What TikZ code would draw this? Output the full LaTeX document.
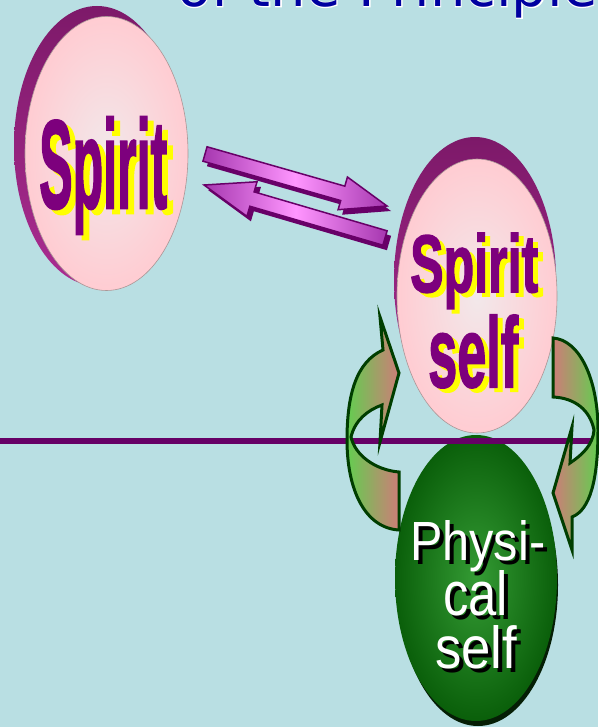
\documentclass[tikz,border=0pt]{standalone}
\usepackage{graphicx}
\usepackage{fontspec}
\setmainfont{Liberation Sans}
\newfontfamily\titlefont{DejaVu Sans}
\newfontfamily\titleoutline[FakeBold=3]{DejaVu Sans}
\newfontfamily\heavyfont[FakeBold=2]{Liberation Sans}
\usetikzlibrary{calc}
\definecolor{bg}{RGB}{185,223,227}
\definecolor{rimc}{RGB}{170,45,145}
\definecolor{rimdark}{RGB}{125,25,105}
\definecolor{facec}{RGB}{255,204,210}
\definecolor{facein}{RGB}{242,232,234}
\definecolor{txtpurple}{RGB}{125,0,125}
\definecolor{shyellow}{RGB}{255,255,0}
\definecolor{linepurple}{RGB}{102,0,102}
\definecolor{arrdark}{RGB}{104,0,104}
\definecolor{arrlight}{RGB}{255,150,255}
\definecolor{arrmid}{RGB}{165,55,175}
\definecolor{gedge}{RGB}{0,62,0}
\definecolor{ggreen}{RGB}{100,205,80}
\definecolor{gsalmon}{RGB}{205,125,120}
\definecolor{physin}{RGB}{52,155,52}
\definecolor{physout}{RGB}{10,95,10}
\definecolor{physrim}{RGB}{5,30,5}
\definecolor{titleblue}{RGB}{0,0,160}
\newcommand{\blockarrow}[6]{%
  \coordinate (ba-h) at ($(#2)!#5!(#1)$);
  \path[#6] ($(#1)!#3!90:(#2)$) -- ($(ba-h)!#3!90:(#2)$) -- ($(ba-h)!#4!90:(#2)$)
    -- (#2) -- ($(ba-h)!#4!-90:(#2)$) -- ($(ba-h)!#3!-90:(#2)$)
    -- ($(#1)!#3!-90:(#2)$) -- cycle;}
\tikzset{
  rim/.style={top color=rimdark, bottom color=rimc},
  face/.style={inner color=facein, outer color=facec, draw={rgb,255:red,170;green,150;blue,150}, line width=0.6pt},
  parrow/.style={left color=arrmid, right color=arrmid, middle color=arrlight, draw=arrdark, line width=1.5pt, line join=miter},
  parrowsh/.style={fill=arrdark},
  garrow/.style={draw=gedge, line width=3pt, line join=miter},
  bigtxt/.style={anchor=base west, inner sep=0pt, font=\heavyfont\bfseries},
  phys/.style={anchor=base west, inner sep=0pt},
}
\begin{document}
\begin{tikzpicture}[x=1pt,y=-1pt]
\useasboundingbox (0,0) rectangle (598,727);
\fill[bg] (0,0) rectangle (598,727);
% title (cut off at top)
\node[anchor=base west, inner sep=0pt, text=white, font=\titleoutline\fontsize{56}{60}\selectfont] (titlew) at (177,6.5) {of the Principle};
\node[anchor=base west, inner sep=0pt, text=titleblue, font=\titlefont\fontsize{56}{60}\selectfont] (title) at (177,6.5) {of the Principle};
% purple block arrows
\coordinate (a1s) at (205,154);
\coordinate (a1e) at (387,206);
\coordinate (a2s) at (385,238);
\coordinate (a2e) at (204,185);
\coordinate (a1ss) at (209,159);
\coordinate (a1es) at (391,211);
\coordinate (a2ss) at (389,243);
\coordinate (a2es) at (208,190);
\blockarrow{a1ss}{a1es}{7.5pt}{17pt}{46pt}{parrowsh}
\blockarrow{a1s}{a1e}{7.5pt}{17pt}{46pt}{parrow}
\blockarrow{a2ss}{a2es}{7.5pt}{18pt}{50pt}{parrowsh}
\blockarrow{a2s}{a2e}{7.5pt}{18pt}{50pt}{parrow}
% left ellipse
\path[rim] (97,146) ellipse [x radius=83, y radius=140];
\path[face] (106.5,153.5) ellipse [x radius=81.5, y radius=137];
% right ellipse
\path[rim] (475,280) ellipse [x radius=81, y radius=143];
\path[face] (477,296) ellipse [x radius=80, y radius=137];
% physical ellipse
\fill[physrim] (478,585) ellipse [x radius=80, y radius=141];
\path[inner color=physin, outer color=physout] (476,578) ellipse [x radius=81, y radius=143];
% horizontal line
\draw[linepurple, line width=5.5pt] (0,441) -- (598,441);
% curved green arrows
\path[garrow, left color=ggreen, right color=gsalmon]
  (399,373) -- (380,317) -- (383,350)
  .. controls (356,362) and (347,395) .. (347,440)
  .. controls (347,490) and (365,528) .. (399,530)
  -- (399,472)
  .. controls (375,470) and (355,455) .. (351,437)
  .. controls (355,420) and (368,410) .. (382,405)
  -- (380,442) -- cycle;
\path[garrow, left color=gsalmon, right color=ggreen]
  (553,338)
  .. controls (580,340) and (598,380) .. (598,430)
  .. controls (598,480) and (590,510) .. (572,517)
  -- (572,550) -- (553,493) -- (572,427) -- (570,463)
  .. controls (582,455) and (593,445) .. (594,430)
  .. controls (590,410) and (575,398) .. (553,397)
  -- cycle;
% texts
\node[bigtxt, text=shyellow] (spA-sh) at (45,213) {\resizebox{128pt}{91pt}{Spirit}};
\node[bigtxt, text=txtpurple] (spA) at (39,208) {\resizebox{128pt}{91pt}{Spirit}};
\node[bigtxt, text=shyellow] (spB-sh) at (415,296) {\resizebox{128pt}{59pt}{Spirit}};
\node[bigtxt, text=txtpurple] (spB) at (410,292) {\resizebox{128pt}{59pt}{Spirit}};
\node[bigtxt, text=shyellow] (slf-sh) at (433,391) {\resizebox{90pt}{72pt}{self}};
\node[bigtxt, text=txtpurple] (slf) at (428,387) {\resizebox{90pt}{72pt}{self}};
\node[phys, text=black] (ph1s) at (414,564) {\resizebox{135pt}{40pt}{Physi-}};
\node[phys, text=black] (ph2s) at (447,619) {\resizebox{65pt}{45pt}{cal}};
\node[phys, text=black] (ph3s) at (439,672) {\resizebox{82pt}{43pt}{self}};
\node[phys, text=white] (ph1) at (410,560) {\resizebox{135pt}{40pt}{Physi-}};
\node[phys, text=white] (ph2) at (443,615) {\resizebox{65pt}{45pt}{cal}};
\node[phys, text=white] (ph3) at (435,668) {\resizebox{82pt}{43pt}{self}};
\end{tikzpicture}
\end{document}
